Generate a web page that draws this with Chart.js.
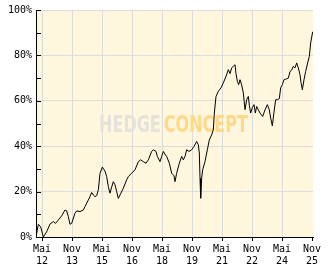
<!DOCTYPE html>
<html>
<head>
<meta charset="utf-8">
<script src="https://cdn.jsdelivr.net/npm/chart.js@4/dist/chart.umd.min.js"></script>
<style>
  html, body { margin: 0; padding: 0; background: #ffffff; }
  #wrap { width: 332px; height: 269px; }
</style>
</head>
<body>
<div id="wrap"><canvas id="c" width="332" height="269"></canvas></div>
<script>
// Months counted from January 2012 (0 = start of Jan 2012)
const monthsSince2012 = [
  0.4, 1.8, 3.2, 4.8, 6.8, 8.8, 10.8, 12.1, 13.8, 15.8, 17.8, 18.8, 19.8, 20.8, 21.8,
  23.8, 24.8, 26.8, 28.8, 29.8, 31.8, 32.8, 33.8, 34.8, 35.8, 36.8, 37.8, 38.8, 40.2,
  41.8, 42.8, 43.8, 44.8, 45.8, 46.8, 47.8, 48.8, 49.8, 50.8, 52.8, 54.8, 55.8, 57.8,
  59.8, 61.8, 63.2, 64.8, 66.4, 67.8, 69.8, 70.8, 72.4, 73.2, 74.8, 75.8, 76.8, 77.8,
  78.8, 80.4, 81.8, 83.2, 83.8, 84.8, 86.4, 87.8, 88.8, 89.8, 90.8, 92.2, 93.8, 95.2,
  96.8, 97.8, 98.4, 98.8, 99.2, 99.8, 100.4, 101.8, 103.2, 104.4, 105.8, 106.8, 107.4,
  108.4, 109.8, 111.4, 112.8, 114.4, 115.8, 116.8, 117.8, 118.8, 119.8, 120.4, 121.2,
  122.0, 122.8, 123.8, 124.8, 125.8, 126.8, 127.8, 128.4, 129.2, 130.2, 131.2, 132.0,
  132.8, 133.8, 134.8, 136.4, 137.8, 139.2, 140.4, 141.2, 142.2, 143.2, 144.2, 145.2,
  146.4, 147.2, 148.2, 149.2, 150.2, 151.8, 152.8, 153.8, 154.8, 155.8, 156.8, 157.8,
  158.8, 159.4, 160.2, 161.2, 162.2, 163.4, 164.4, 165.2, 166.4
];
// Cumulative performance in percent
const performance = [
  0, 5.6, 4.5, 0, 2.3, 5.7, 6.8, 6.0, 7.5, 9.3, 11.9, 11.5, 9.0, 5.6, 6.0,
  10.5, 11.5, 11.2, 11.9, 13.4, 16.3, 17.8, 19.6, 18.5, 17.8, 18.2, 20.8, 28.0, 30.8,
  29.0, 26.6, 22.2, 19.3, 22.0, 24.4, 23.0, 20.0, 17.0, 18.5, 21.5, 25.2, 26.6, 28.1,
  29.6, 33.2, 34.0, 33.2, 32.5, 34.0, 37.7, 38.4, 37.7, 35.5, 33.2, 35.5, 37.7, 36.5,
  35.5, 32.5, 28.1, 27.0, 24.4, 28.1, 32.5, 35.5, 34.0, 35.5, 38.4, 37.7, 38.4, 39.9,
  42.1, 40.6, 37.0, 25.9, 17.1, 25.9, 29.6, 33.2, 38.4, 42.8, 45.0, 47.2, 54.6,
  61.9, 64.2, 65.7, 67.9, 70.8, 73.7, 72.0, 74.5, 75.2, 75.9, 72.0, 68.6,
  67.1, 69.3, 67.0, 63.4, 56.1, 60.5, 61.9, 58.0, 54.6, 57.0, 58.3, 54.6,
  57.5, 56.0, 54.6, 53.1, 56.0, 58.3, 56.0, 52.4, 49.0, 55.0, 60.5, 60.5,
  61.0, 65.7, 67.1, 69.3, 69.5, 70.0, 72.9, 73.5, 75.2, 74.5, 76.7, 74.5,
  71.5, 68.0, 64.9, 69.3, 72.9, 76.7, 79.6, 85.5, 90.4
];
const tickMonths = [4, 22, 40, 58, 76, 94, 112, 130, 148, 166];
const tickLabels = ['Mai 12', 'Nov 13', 'Mai 15', 'Nov 16', 'Mai 18', 'Nov 19', 'Mai 21', 'Nov 22', 'Mai 24', 'Nov 25'];
const yTicks = [0, 20, 40, 60, 80, 100];
const watermarkParts = ['HEDGE', 'CONCEPT'];

const FONT = "'DejaVu Sans Mono', monospace";

const bgPlugin = {
  id: 'bg',
  beforeDraw(chart) {
    const { ctx, chartArea: a } = chart;
    ctx.save();
    ctx.fillStyle = '#fff6de';
    ctx.fillRect(a.left, a.top, a.right - a.left, a.bottom - a.top);
    ctx.restore();
  }
};

const watermarkPlugin = {
  id: 'watermark',
  beforeDatasetsDraw(chart) {
    const { ctx, chartArea: a } = chart;
    ctx.save();
    ctx.font = "bold 24px 'DejaVu Sans Condensed', 'DejaVu Sans', sans-serif";
    ctx.textBaseline = 'alphabetic';
    ctx.textAlign = 'left';
    const w1 = ctx.measureText(watermarkParts[0]).width;
    const gap = 4;
    const w2 = ctx.measureText(watermarkParts[1]).width;
    const total = w1 + gap + w2;
    const targetW = 149;
    const sx = targetW / total;
    const cx = (a.left + a.right) / 2 - 1;
    const baseY = (a.top + a.bottom) / 2 + 8.5;
    ctx.translate(cx - targetW / 2, baseY);
    ctx.scale(sx, 17 / 17.5);
    ctx.fillStyle = '#e5e2db';
    ctx.fillText(watermarkParts[0], 0, 0);
    ctx.fillStyle = '#ffd888';
    ctx.fillText(watermarkParts[1], w1 + gap, 0);
    ctx.restore();
  }
};

const innerTicksPlugin = {
  id: 'innerTicks',
  afterDraw(chart) {
    const { ctx } = chart;
    const ys = chart.scales.y;
    const x0 = ys.right;
    ctx.save();
    ctx.strokeStyle = '#000';
    ctx.lineWidth = 1;
    for (let v = 0; v <= 100; v += 10) {
      const y = Math.round(ys.getPixelForValue(v)) + 0.5;
      ctx.beginPath();
      ctx.moveTo(x0, y);
      ctx.lineTo(x0 + 5, y);
      ctx.stroke();
    }
    ctx.restore();
  }
};

new Chart(document.getElementById('c'), {
  type: 'line',
  data: {
    datasets: [{
      data: monthsSince2012.map((m, i) => ({ x: m, y: performance[i] })),
      borderColor: '#000000',
      borderWidth: 1,
      pointRadius: 0,
      tension: 0,
      fill: false
    }]
  },
  options: {
    responsive: false,
    animation: false,
    events: [],
    layout: { padding: { top: 10, right: 19, left: 0, bottom: 0 } },
    plugins: { legend: { display: false }, tooltip: { enabled: false } },
    scales: {
      x: {
        type: 'linear',
        min: 0.4,
        max: 166.6,
        afterBuildTicks(scale) { scale.ticks = tickMonths.map(v => ({ value: v })); },
        afterFit(scale) { scale.height = 32; },
        ticks: {
          autoSkip: false,
          maxRotation: 0,
          padding: 2,
          color: '#000',
          font: { family: FONT, size: 10, lineHeight: 1.2 },
          callback(value, index) { return tickLabels[index].split(' '); }
        },
        grid: {
          color: (c) => (c.index === tickMonths.length - 1 ? 'rgba(0,0,0,0)' : '#dcdcdc'),
          tickColor: '#000',
          tickLength: 4,
          drawTicks: true
        },
        border: { color: '#000', width: 1 }
      },
      y: {
        min: 0,
        max: 100,
        afterBuildTicks(scale) { scale.ticks = yTicks.map(v => ({ value: v })); },
        afterFit(scale) { scale.width = 36; },
        ticks: {
          padding: 4,
          color: '#000',
          font: { family: FONT, size: 10 },
          callback(value) { return value + '%'; }
        },
        grid: { color: '#dcdcdc', drawTicks: false },
        border: { color: '#000', width: 1 }
      }
    }
  },
  plugins: [bgPlugin, watermarkPlugin, innerTicksPlugin]
});
</script>
</body>
</html>
